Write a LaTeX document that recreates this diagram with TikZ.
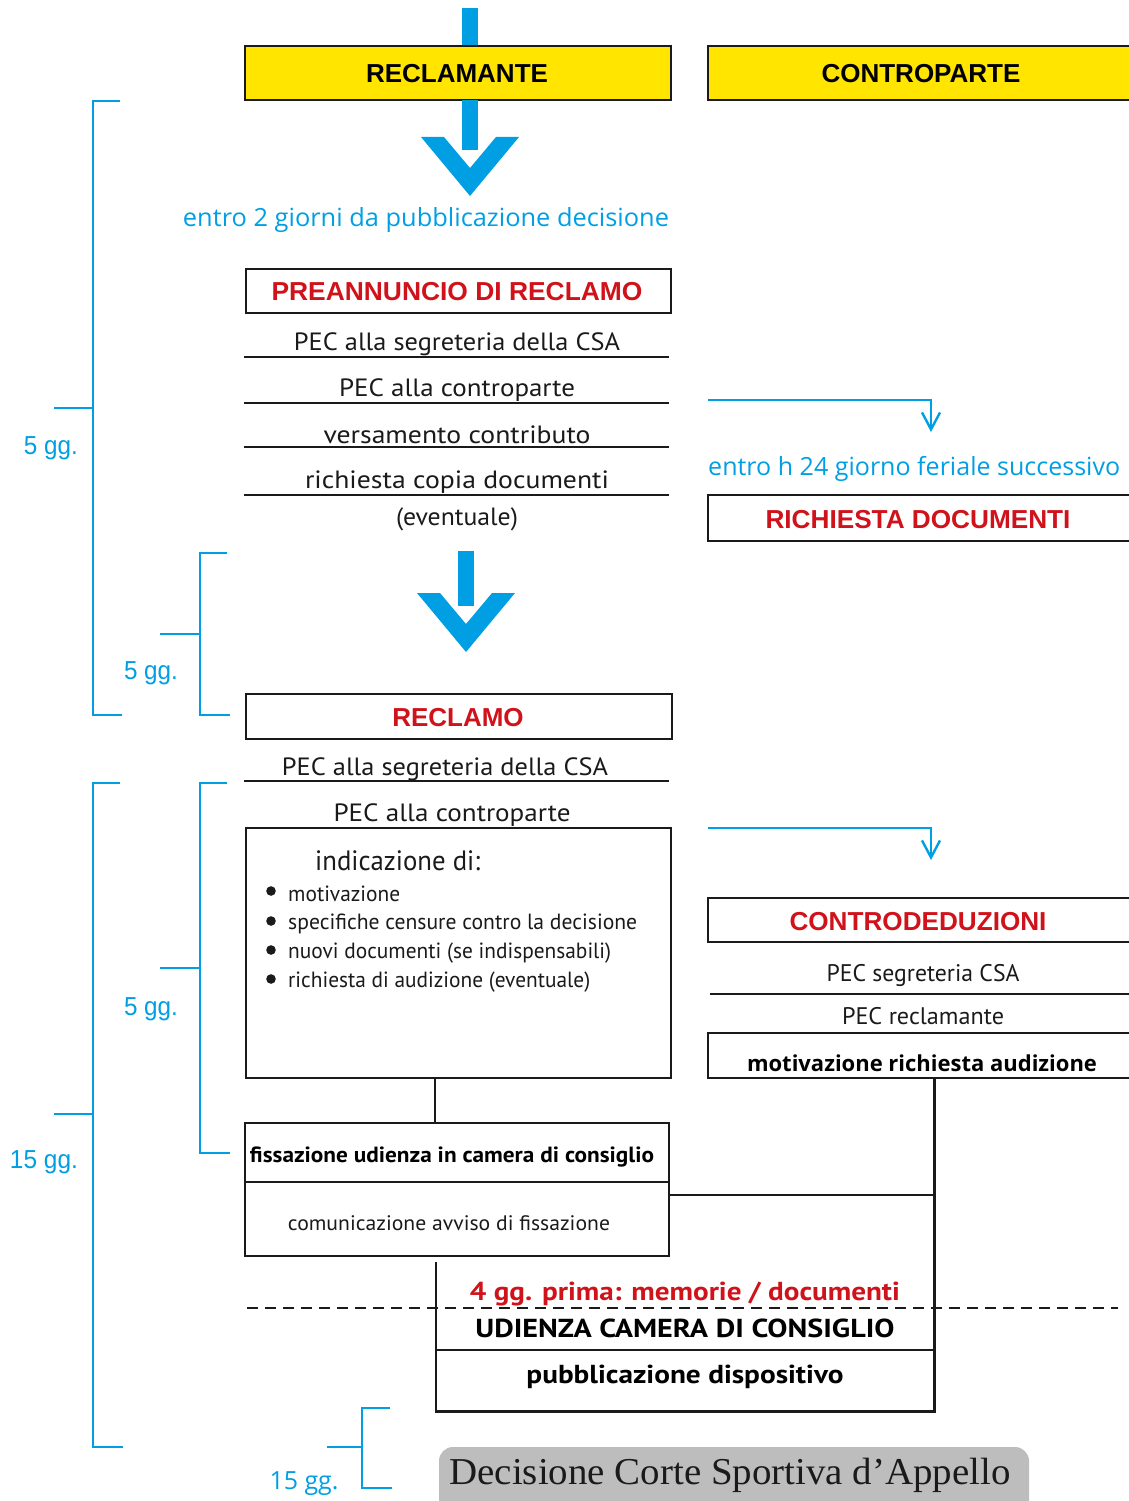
\documentclass[tikz,border=0pt]{standalone}
\usepackage{fontspec}
\usepackage{graphicx}
\setmainfont{Liberation Sans}
\newfontfamily\arialf{Liberation Sans}
\newfontfamily\segoe{Open Sans}
\newfontfamily\myriad{PT Sans}
\newfontfamily\timesf{Liberation Serif}
\usetikzlibrary{arrows.meta}
\definecolor{cblue}{HTML}{009FE3}
\definecolor{cred}{HTML}{D0121B}
\definecolor{cyell}{HTML}{FFE500}
\definecolor{cgray}{HTML}{BDBDBD}
\definecolor{cink}{HTML}{1A1A1A}
\newcommand\fw[2]{\resizebox{#1pt}{\height}{#2}}
\tikzset{
  box/.style={draw=cink, line width=2.6pt, inner sep=0pt},
  hdr/.style={box, fill=cyell},
  capt/.style={font=\arialf\bfseries\fontsize{26}{30}\selectfont, inner sep=0pt},
  bltxt/.style={font=\segoe\fontsize{25}{30}\selectfont, text=cblue, inner sep=0pt, yshift=-3pt},
  ptxt/.style={font=\myriad\fontsize{25}{30}\selectfont, text=cink, inner sep=0pt, yshift=-3pt},
  smtxt/.style={font=\myriad\fontsize{22}{26}\selectfont, text=cink, inner sep=0pt, yshift=-1pt},
  bdtxt/.style={font=\myriad\bfseries\fontsize{26}{30}\selectfont, text=black, inner sep=0pt},
  ggtxt/.style={font=\arialf\fontsize{26}{30}\selectfont, text=cblue, inner sep=0pt, yshift=-2.5pt},
  blu/.style={draw=cblue, line width=2.6pt},
  thinl/.style={draw=cink, line width=1.2pt},
  conn/.style={draw=cink, line width=2.6pt},
  barb/.style={blu, line width=2.4pt, -{Straight Barb[length=17pt,width=18pt,line width=2.4pt]}},
}
\begin{document}
\begin{tikzpicture}[x=1pt,y=-1pt]
\useasboundingbox (0,0) rectangle (1129,1501);

% ---------- header boxes
\fill[cblue] (462,8) rectangle (478,47);
\node[hdr, minimum width=426pt, minimum height=54pt] (recl) at (458,73) {};
\node[capt] (recltxt) at (457,74) {RECLAMANTE};
\node[hdr, minimum width=432pt, minimum height=54pt] (contr) at (924,73) {};
\node[capt] (contrtxt) at (921,74) {CONTROPARTE};

% ---------- chevron 1
\fill[cblue] (462,100) rectangle (478,150);
\fill[cblue] (421,137) -- (470,196) -- (519,137) -- (496,137) -- (470,168) -- (444,137) -- cycle;
\node[bltxt] (entro1) at (426,217) {\fw{486}{entro 2 giorni da pubblicazione decisione}};

% ---------- preannuncio
\node[box, minimum width=425pt, minimum height=44pt] (pre) at (458.5,291) {};
\node[capt, text=cred] (pretxt) at (457,292) {\fw{371}{PREANNUNCIO DI RECLAMO}};
\node[ptxt] (p1) at (457,341) {\fw{326}{PEC alla segreteria della CSA}};
\draw[thinl] (244,357) -- (669,357);
\node[ptxt] (p2) at (457,387) {\fw{236}{PEC alla controparte}};
\draw[thinl] (244,403) -- (669,403);
\node[ptxt] (p3) at (457,432) {\fw{267}{versamento contributo}};
\draw[thinl] (244,447) -- (669,447);
\node[ptxt] (p4) at (457,479) {\fw{304}{richiesta copia documenti}};
\draw[thinl] (244,495) -- (669,495);
\node[ptxt] (p5) at (457,516) {\fw{122}{(eventuale)}};

% ---------- connector to richiesta documenti
\coordinate (c1s) at (708,400);
\coordinate (c1e) at (931,432);
\draw[barb] (c1s) -| (c1e);
\node[bltxt, anchor=west] (entro2) at (708,466) {\fw{412}{entro h 24 giorno feriale successivo}};
\node[box, minimum width=432pt, minimum height=46pt] (rich) at (924,518) {};
\node[capt, text=cred] (richtxt) at (918,519.5) {\fw{305}{RICHIESTA DOCUMENTI}};

% ---------- chevron 2
\fill[cblue] (458,551) rectangle (474,606);
\fill[cblue] (417,593) -- (466,652) -- (515,593) -- (492,593) -- (466,624) -- (440,593) -- cycle;

% ---------- reclamo
\node[box, minimum width=426pt, minimum height=45pt] (rec) at (459,716.5) {};
\node[capt, text=cred] (rectxt) at (458,718) {RECLAMO};
\node[ptxt] (q1) at (445,766) {\fw{326}{PEC alla segreteria della CSA}};
\draw[thinl] (244,781) -- (669,781);
\node[ptxt] (q2) at (452,812) {\fw{237}{PEC alla controparte}};

\node[box, minimum width=425pt, minimum height=250pt] (big) at (458.5,953) {};
\node[font=\myriad\fontsize{28}{32}\selectfont, text=cink, inner sep=0pt, anchor=west] (ind) at (315,861) {\fw{165}{indicazione di:}};
\foreach \yy/\tt/\ww [count=\i] in {893/motivazione/112, 923/specifiche censure contro la decisione/349, 952/nuovi documenti (se indispensabili)/323, 981/richiesta di audizione (eventuale)/302}{
  \fill[cink] (271,\yy-2) circle (4.8pt);
  \node[smtxt, anchor=west] (b\i) at (288,\yy) {\fw{\ww}{\tt}};
}

% ---------- connector to controdeduzioni
\coordinate (c2s) at (708,828);
\coordinate (c2e) at (931,860);
\draw[barb] (c2s) -| (c2e);
\node[box, minimum width=432pt, minimum height=44pt] (cd) at (924,920) {};
\node[capt, text=cred] (cdtxt) at (918,922) {\fw{257}{CONTRODEDUZIONI}};
\node[ptxt, font=\myriad\fontsize{24}{28}\selectfont] (r1) at (923,972) {\fw{193}{PEC segreteria CSA}};
\draw[thinl] (710,994) -- (1135,994);
\node[ptxt, font=\myriad\fontsize{24}{28}\selectfont] (r2) at (923,1013) {\fw{162}{PEC reclamante}};
\node[box, minimum width=432pt, minimum height=45pt] (mot) at (924,1055.5) {};
\node[font=\segoe\bfseries\fontsize{22}{26}\selectfont, text=black, inner sep=0pt] (mottxt) at (922,1063) {\fw{350}{motivazione richiesta audizione}};

% ---------- fissazione
\node[box, minimum width=424pt, minimum height=59pt] (fis) at (457,1152.5) {};
\node[font=\myriad\bfseries\fontsize{22}{26}\selectfont, text=black, inner sep=0pt] (fistxt) at (452,1157) {\fw{404}{fissazione udienza in camera di consiglio}};
\node[box, minimum width=424pt, minimum height=74pt] (com) at (457,1219) {};
\node[smtxt, font=\myriad\fontsize{21}{25}\selectfont] (comtxt) at (449,1222) {\fw{322}{comunicazione avviso di fissazione}};

\coordinate (x435) at (435,0);
\draw[conn] (x435 |- big.south) -- (x435 |- fis.north);

% ---------- udienza
\node[inner sep=0pt, minimum width=498pt, minimum height=149pt] (ud) at (685,1336.5) {};
\draw[conn] (com.east |- 0,1195) -- (ud.east |- 0,1195);
\draw[conn] (ud.north west) -- (ud.south west) -- (ud.south east) -- (ud.east |- mot.south);
\draw[conn] (ud.west |- 0,1350) -- (ud.east |- 0,1350);
\draw[cink, line width=2.2pt, dash pattern=on 11pt off 7pt] (247,1308) -- (1118,1308);
\node[bdtxt, text=cred] (mem) at (685,1293.5) {\fw{430}{4 gg. prima: memorie / documenti}};
\node[bdtxt] (udt) at (685,1328) {\fw{419}{UDIENZA CAMERA DI CONSIGLIO}};
\node[bdtxt] (pub) at (685,1377) {\fw{317}{pubblicazione dispositivo}};

% ---------- decisione
\node[fill=cgray, rounded corners=14pt, minimum width=590pt, minimum height=80pt, inner sep=0pt] (dec) at (734,1487) {};
\node[font=\timesf\fontsize{38}{42}\selectfont, text=cink, inner sep=0pt] (dectxt) at (730,1475) {\fw{561}{Decisione Corte Sportiva d’Appello}};

% ---------- brackets
\draw[blu] (120,101) -- (93,101) -- (93,715) -- (122,715);
\draw[blu] (54,408) -- (93,408);
\node[ggtxt] (g1) at (51,446) {\fw{54}{5 gg.}};
\draw[blu] (227,553) -- (200,553) -- (200,715) -- (230,715);
\draw[blu] (160,634) -- (200,634);
\node[ggtxt] (g2) at (151,671) {\fw{54}{5 gg.}};
\draw[blu] (120,783) -- (93,783) -- (93,1447) -- (123,1447);
\draw[blu] (54,1114) -- (93,1114);
\node[ggtxt] (g3) at (44,1160) {\fw{68}{15 gg.}};
\draw[blu] (227,783) -- (200,783) -- (200,1153) -- (230,1153);
\draw[blu] (160,968) -- (200,968);
\node[ggtxt] (g4) at (151,1007) {\fw{54}{5 gg.}};
\draw[blu] (390,1408) -- (362,1408) -- (362,1488) -- (392,1488);
\draw[blu] (327,1447) -- (362,1447);
\node[bltxt] (g5) at (304,1481) {\fw{69}{15 gg.}};
\end{tikzpicture}
\end{document}
